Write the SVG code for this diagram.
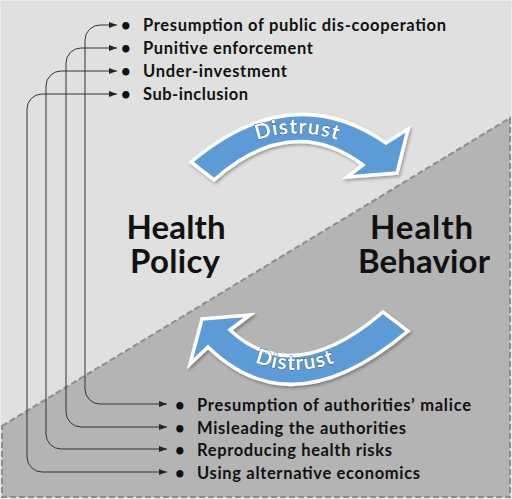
<svg xmlns="http://www.w3.org/2000/svg" width="512" height="499" viewBox="0 0 512 499">
<defs>
<style>
.li{font-family:Lato,"Liberation Sans",sans-serif;font-weight:700;font-size:16.5px;fill:#111}
.big{font-family:Lato,"Liberation Sans",sans-serif;font-weight:700;font-size:33px;fill:#111;text-anchor:middle}
.dis{font-family:Lato,"Liberation Sans",sans-serif;font-weight:700;font-size:21px;fill:#fff;stroke:#1f4e79;stroke-width:0.8;paint-order:stroke;letter-spacing:1px}
.band{fill:#5b9bd5;stroke:#fff;stroke-width:3.5;stroke-linejoin:miter}
.con{fill:none;stroke:#333;stroke-width:1}
</style>
<marker id="ah" viewBox="0 0 8 6" refX="8" refY="3" markerWidth="8" markerHeight="6" markerUnits="userSpaceOnUse" orient="auto-start-reverse">
<path d="M0,0 L8,3 L0,6 Z" fill="#222"/>
</marker>
<filter id="sh" x="-10%" y="-10%" width="130%" height="130%">
<feDropShadow dx="1.5" dy="2" stdDeviation="1.5" flood-color="#000" flood-opacity="0.3"/>
</filter>
<path id="tp1" d="M215,161 Q297,106 380,161"/>
<path id="tp2" d="M215,340 Q295,400 375,340"/>
</defs>
<rect x="0" y="0" width="512" height="499" fill="#e0e0e0"/>
<rect x="0.5" y="0.5" width="511" height="498" fill="none" stroke="#ececec" stroke-width="1"/>
<polygon points="2,426 510,118 510,497 2,497" fill="#b4b4b4" stroke="#8c8c8c" stroke-width="2" stroke-dasharray="6,3"/>

<g id="connectors">
<path class="con" marker-start="url(#ah)" marker-end="url(#ah)" d="M117,25 H100 A15,15 0 0 0 85,40 V389 A15,15 0 0 0 100,404 H167"/>
<path class="con" marker-start="url(#ah)" marker-end="url(#ah)" d="M117,48 H81 A15,15 0 0 0 66,63 V412 A15,15 0 0 0 81,427 H167"/>
<path class="con" marker-start="url(#ah)" marker-end="url(#ah)" d="M117,71 H61 A15,15 0 0 0 46,86 V434 A15,15 0 0 0 61,449 H167"/>
<path class="con" marker-start="url(#ah)" marker-end="url(#ah)" d="M117,94 H42 A15,15 0 0 0 27,109 V457 A15,15 0 0 0 42,472 H167"/>
</g>

<g id="policy-list">
<text class="li" x="121" y="31">•</text>
<text class="li" x="143" y="31" textLength="303">Presumption of public dis-cooperation</text>
<text class="li" x="121" y="54">•</text>
<text class="li" x="143" y="54" textLength="170">Punitive enforcement</text>
<text class="li" x="121" y="77">•</text>
<text class="li" x="143" y="77" textLength="144">Under-investment</text>
<text class="li" x="121" y="100">•</text>
<text class="li" x="143" y="100" textLength="105">Sub-inclusion</text>
</g>

<g id="behavior-list">
<text class="li" x="175" y="411">•</text>
<text class="li" x="197" y="411" textLength="274">Presumption of authorities’ malice</text>
<text class="li" x="175" y="434">•</text>
<text class="li" x="197" y="434" textLength="209">Misleading the authorities</text>
<text class="li" x="175" y="456">•</text>
<text class="li" x="197" y="456" textLength="195">Reproducing health risks</text>
<text class="li" x="175" y="479">•</text>
<text class="li" x="197" y="479" textLength="223">Using alternative economics</text>
</g>

<g id="health-policy">
<text class="big"><tspan x="176" y="239" textLength="99">Health</tspan><tspan x="175" y="273" textLength="90">Policy</tspan></text>
</g>

<g id="health-behavior">
<text class="big"><tspan x="421.5" y="239" textLength="103">Health</tspan><tspan x="424" y="273" textLength="132">Behavior</tspan></text>
</g>

<g id="distrust-top">
<path class="band" filter="url(#sh)" d="M191,162 Q291.5,77.5 386,143 L408,129 L397,173 L347,177 L363,165 Q291.5,111.5 214,180 Z"/>
<text class="dis"><textPath href="#tp1" startOffset="50%" text-anchor="middle">Distrust</textPath></text>
</g>

<g id="distrust-bottom">
<path class="band" filter="url(#sh)" d="M408,331 Q292,429 208,347 L190,364 L202,319 L250,315 L230,330 Q293.5,389 383,312 Z"/>
<text class="dis"><textPath href="#tp2" startOffset="50%" text-anchor="middle">Distrust</textPath></text>
</g>
</svg>
